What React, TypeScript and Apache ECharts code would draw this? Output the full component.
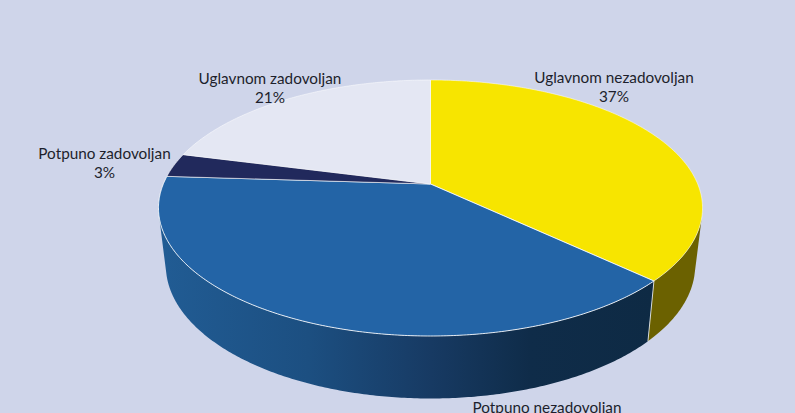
import React, { useEffect, useRef } from "react";
import * as echarts from "echarts";

const categories = ["Uglavnom nezadovoljan", "Potpuno nezadovoljan", "Potpuno zadovoljan", "Uglavnom zadovoljan"];
const shares = [37, 39, 3, 21];

const topColors = ["#f7e500", "#2364a6", "#21295c", "#e4e7f3"];
const edgeColors = ["rgba(255,255,255,0.5)", "rgba(255,255,255,0.85)", "rgba(255,255,255,0.5)", "rgba(255,255,255,0.5)"];
const BG = "#cfd5ea";
const TEXT = "#1d1f2c";

// label centres, by slice
const labelCentres = [[614, 86.5], [547, 416.5], [104.5, 162.5], [270, 87.5]];

// perspective disc
const CX = 430.5, CY = 184, A = 267.2, B = 123.5, K = 0.1875;
const WALL_SX = 0.973, WALL_SY = 1.04, WALL_D = 56.4;
// the side wall is only seen between these two angles (the silhouette rulings)
const WALL_FROM = (105 / 180) * Math.PI, WALL_TO = (255 / 180) * Math.PI;

const top = (t: number) => {
  const u = Math.sin(t), v = -Math.cos(t), w = 1 - K * v;
  return [CX + (A * u) / w, CY + (B * v) / w];
};
const bottom = (t: number) => {
  const u = Math.sin(t), v = -Math.cos(t), w = 1 - K * v;
  return [CX + (WALL_SX * A * u) / w, CY + WALL_D + (WALL_SY * B * v) / w];
};
const total = shares.reduce((a, b) => a + b, 0);
const startOf = (i: number) => shares.slice(0, i).reduce((a, b) => a + b, 0);
const angle = (share: number) => (share / total) * Math.PI * 2;
const arc = (f: (t: number) => number[], a: number, b: number) => {
  const n = Math.max(2, Math.ceil(Math.abs(b - a) / 0.01));
  const pts: number[][] = [];
  for (let j = 0; j <= n; j++) pts.push(f(a + ((b - a) * j) / n));
  return pts;
};

const wallFill = (i: number): any => {
  if (i === 1) {
    return {
      type: "linear", x: 0, y: 0, x2: 1, y2: 0,
      colorStops: [
        { offset: 0, color: "#215c94" },
        { offset: 0.3, color: "#1c4f81" },
        { offset: 0.55, color: "#173a63" },
        { offset: 0.75, color: "#0f2c49" },
        { offset: 1, color: "#0e2a44" },
      ],
    };
  }
  return "#6b6100";
};

const wallItem = (params: any, api: any) => {
  const i = params.dataIndex;
  const a = Math.max(angle(api.value(1)), WALL_FROM);
  const b = Math.min(angle(api.value(1) + api.value(0)), WALL_TO);
  if (a >= b) return { type: "group", children: [] };
  const points = [...arc(bottom, a, b).reverse(), ...arc(top, a, b)];
  const children: any[] = [
    { type: "polygon", shape: { points }, style: { fill: wallFill(i), stroke: "none" } },
  ];
  if (i === 1) {
    const p = top(a), q = bottom(a);
    children.push({
      type: "line",
      shape: { x1: p[0], y1: p[1], x2: q[0], y2: q[1] },
      style: { stroke: "rgba(255,255,255,0.75)", lineWidth: 1 },
    });
  }
  return { type: "group", children };
};

const faceItem = (params: any, api: any) => {
  const i = params.dataIndex;
  const a = angle(api.value(1)), b = angle(api.value(1) + api.value(0));
  const points = [[CX, CY], ...arc(top, a, b)];
  return {
    type: "polygon",
    shape: { points },
    style: { fill: topColors[i], stroke: edgeColors[i], lineWidth: 1 },
  };
};

const labelItem = (params: any, api: any) => {
  const i = params.dataIndex;
  const [x, y] = labelCentres[i];
  return {
    type: "text",
    x,
    y,
    style: {
      text: `${categories[i]}\n${api.value(0)}%`,
      align: "center",
      verticalAlign: "middle",
      fontFamily: "Lato",
      fontSize: 15.3,
      lineHeight: 19,
      fill: TEXT,
    },
  };
};

const seriesData = shares.map((v, i) => ({ name: categories[i], value: [v, startOf(i)] }));

export default function App() {
  const ref = useRef<HTMLDivElement>(null);
  useEffect(() => {
    const chart = echarts.init(ref.current!, undefined, { renderer: "svg" });
    chart.setOption({
      animation: false,
      backgroundColor: BG,
      series: [
        { type: "custom", coordinateSystem: "none", silent: true, z: 1, data: seriesData, renderItem: wallItem },
        { type: "custom", coordinateSystem: "none", silent: true, z: 2, data: seriesData, renderItem: faceItem },
        { type: "custom", coordinateSystem: "none", silent: true, z: 3, data: seriesData, renderItem: labelItem },
      ],
    });
    return () => chart.dispose();
  }, []);
  return <div ref={ref} style={{ position: "fixed", left: 0, top: 0, width: 795, height: 413 }} />;
}
